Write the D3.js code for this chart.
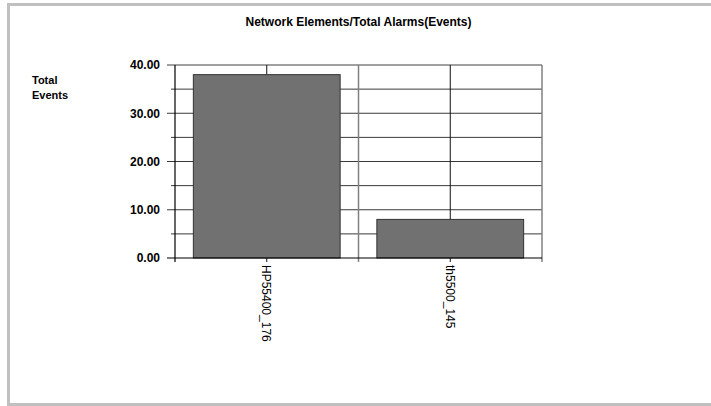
<!DOCTYPE html>
<html>
<head>
<meta charset="utf-8">
<script src="https://cdn.jsdelivr.net/npm/d3@7"></script>
<style>
  html, body { margin: 0; padding: 0; background: #fff; }
  svg { display: block; font-family: "Liberation Sans", Arial, sans-serif; }
</style>
</head>
<body>
<svg id="chart" width="711" height="406"></svg>
<script>
// Chart data
const title = "Network Elements/Total Alarms(Events)";
const yTitle = ["Total", "Events"];
const categories = ["HP55400_176", "th5500_145"];
const totals = [38, 8];
const yTicks = [0, 10, 20, 30, 40];
const yGrid = [5, 10, 15, 20, 25, 30, 35, 40];

const svg = d3.select("#chart");

// Outer frame
svg.append("rect")
  .attr("x", 8.5).attr("y", 4.5)
  .attr("width", 720).attr("height", 400)
  .attr("fill", "none").attr("stroke", "#c0c0c0").attr("stroke-width", 3);

const plot = { left: 175, right: 542, top: 65, bottom: 258 };

const x = d3.scaleBand().domain(categories)
  .range([plot.left, plot.right]).paddingInner(0.2).paddingOuter(0.1);
const xOuter = d3.scaleBand().domain(categories)
  .range([plot.left, plot.right]).padding(0);
const y = d3.scaleLinear().domain([0, 40]).range([plot.bottom, plot.top]);

// Title
svg.append("text")
  .attr("x", (plot.left + plot.right) / 2).attr("y", 26)
  .attr("text-anchor", "middle")
  .attr("font-size", 12).attr("font-weight", "bold")
  .text(title);

// Y axis title
svg.append("text")
  .attr("x", 32).attr("y", 84)
  .attr("font-size", 11).attr("font-weight", "bold")
  .selectAll("tspan").data(yTitle).join("tspan")
  .attr("x", 32).attr("dy", (d, i) => i === 0 ? 0 : 15)
  .text(d => d);

// Horizontal gridlines with tick marks extending left of the axis
svg.append("g").selectAll("line").data(yGrid).join("line")
  .attr("x1", d => plot.left - (d % 10 === 0 ? 8 : 4))
  .attr("x2", plot.right)
  .attr("y1", d => y(d)).attr("y2", d => y(d))
  .attr("stroke", d => d === 40 ? "#808080" : "#3a3a3a")
  .attr("stroke-width", d => d === 40 ? 1.5 : 1);

// Category boundary lines (divider and right border), extending below the axis
const bounds = categories.slice(1).map(c => xOuter(c)).concat([plot.right]);
svg.append("g").selectAll("line").data(bounds).join("line")
  .attr("x1", d => d).attr("x2", d => d)
  .attr("y1", plot.top).attr("y2", plot.bottom + 4)
  .attr("stroke", "#808080").attr("stroke-width", 1.5);

// Category centre lines
svg.append("g").selectAll("line").data(categories).join("line")
  .attr("x1", d => xOuter(d) + xOuter.bandwidth() / 2)
  .attr("x2", d => xOuter(d) + xOuter.bandwidth() / 2)
  .attr("y1", plot.top).attr("y2", plot.bottom + 4)
  .attr("stroke", "#111").attr("stroke-width", 1);

// Bars
svg.append("g").selectAll("rect").data(categories).join("rect")
  .attr("x", d => xOuter(d) + (xOuter.bandwidth() - x.bandwidth()) / 2)
  .attr("y", (d, i) => y(totals[i]))
  .attr("width", x.bandwidth())
  .attr("height", (d, i) => plot.bottom - y(totals[i]))
  .attr("fill", "#717171").attr("stroke", "#333").attr("stroke-width", 1);

// Y axis line and baseline
svg.append("line")
  .attr("x1", plot.left).attr("x2", plot.left)
  .attr("y1", plot.top).attr("y2", plot.bottom + 4)
  .attr("stroke", "#000").attr("stroke-width", 1.2);
svg.append("line")
  .attr("x1", plot.left - 8).attr("x2", plot.right)
  .attr("y1", plot.bottom).attr("y2", plot.bottom)
  .attr("stroke", "#000").attr("stroke-width", 1.2);

// Y tick labels
svg.append("g").selectAll("text").data(yTicks).join("text")
  .attr("x", 160).attr("y", d => y(d)).attr("dy", "0.36em")
  .attr("text-anchor", "end")
  .attr("font-size", 12).attr("font-weight", "bold")
  .text(d => d3.format(".2f")(d));

// Rotated category labels
svg.append("g").selectAll("text").data(categories).join("text")
  .attr("transform", d => `translate(${xOuter(d) + xOuter.bandwidth() / 2},265) rotate(90)`)
  .attr("dy", "0.36em")
  .attr("font-size", 12)
  .text(d => d);
</script>
</body>
</html>
